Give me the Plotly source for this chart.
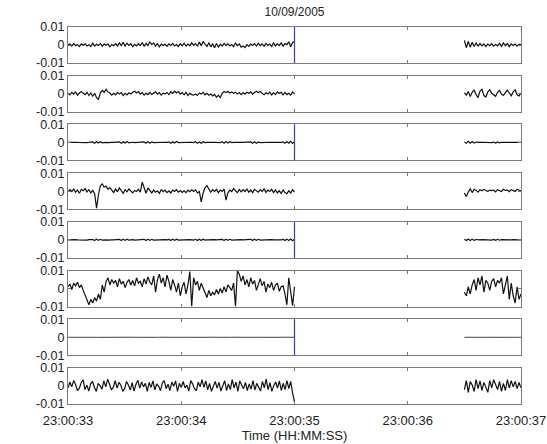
import numpy as np
import plotly.graph_objects as go
from plotly.subplots import make_subplots

# ---- data (signal values in units of 1e-4) ----
SCALE = 1e-4
LEFT_START, LEFT_END = 33.0, 35.0
RIGHT_START, RIGHT_END = 36.5, 37.0
EVENT_T = 35.0
X_TICKS = [33, 34, 35, 36, 37]
X_TICK_LABELS = ["23:00:33", "23:00:34", "23:00:35", "23:00:36", "23:00:37"]
Y_TICKS = [-0.01, 0, 0.01]
Y_TICK_LABELS = ["-0.01", "0", "0.01"]
TITLE = "10/09/2005"
X_TITLE = "Time (HH:MM:SS)"
EVENT_PANELS = [1, 3, 5, 7]

ch1_left = [0,5,-6,8,-4,3,-9,6,-3,7,-5,2,-8,10,-6,4,-3,9,-7,5,-2,6,-10,3,-4,8,-5,12,-3,15,
            -6,10,-2,7,-9,4,-5,6,-3,14,-8,9,-4,18,2,12,-6,8,-10,5,-3,4,-7,6,-2,9,-5,3,-8,7,
            -4,10,-6,5,-3,12,-2,8,-7,16,-4,20,5,-8,12,-10,6,-15,8,-12,4,-6,9,-3,7,-5,3,-9,11,-4,
            6,-12,-5,-14,2,-8,5,-3,8,-6,10,-4,6,-7,9,-2,5,-8,11,-5,7,-3,12,-6,8,2,18,-10,14,20]
ch1_right = [25,-15,20,-12,15,-8,10,-6,8,-5,6,-8,5,-4,7,-6,4,-5,9,-7,12,-4,8,-9,6,-3,5,-6,4,2]

ch2_left = [2,-6,8,-2,10,-8,4,12,2,-5,8,-10,4,-14,2,-22,-32,5,18,8,24,10,4,-8,2,-6,8,-2,6,-10,
            2,-7,5,-2,8,14,4,12,-2,6,-8,2,-5,7,-4,2,10,-2,6,-8,3,-1,7,-5,10,2,14,4,12,-2,
            6,-6,8,-10,2,-5,-8,-2,-10,4,-2,8,-6,2,-8,-2,-12,-4,-20,-8,-22,2,12,6,14,4,10,2,8,-2,
            6,-5,7,-1,8,2,10,-2,6,14,6,12,2,-6,5,-2,8,-7,6,-5,10,2,8,-6,7,-5,2,-8,10,-2]
ch2_right = [5,-8,12,-15,8,20,-5,-22,15,25,-10,-18,10,22,2,-6,-14,8,18,-2,-10,6,20,4,-12,10,22,-6,-12,4]

ch3_left = [0,1,-1,0,1,0,-1,1,0,0,-1,1,0,3,-4,5,-3,4,-2,1,0,-1,1,0,0,1,-1,3,-5,4,
            -3,5,-2,0,1,-1,0,1,0,-1,3,-4,5,-4,3,-1,0,1,0,-1,0,1,0,3,-5,4,-3,5,-1,0,
            1,-1,0,0,1,0,-1,4,-5,3,-4,4,-1,0,1,0,-1,1,0,0,-1,4,-4,5,-3,4,-1,0,1,0,
            -1,1,0,0,1,-1,3,-5,4,-4,3,-1,0,1,0,-1,0,1,0,-1,1,0,0,3,-4,5,-4,6,-5,4]
ch3_right = [3,-5,6,-4,5,-3,2,-1,0,1,0,-1,1,0,-1,2,-3,3,-2,1,0,-1,1,0,0,1,-1,0,1,0]

ch4_left = [-4,8,-2,12,-6,6,-12,10,2,14,-4,8,-10,4,-14,-95,-20,30,40,22,28,10,20,4,-8,12,-4,18,2,-12,
            8,-4,12,2,-10,4,-2,10,-6,50,12,-12,18,2,-10,6,-6,2,-12,8,-3,6,-8,2,-10,6,-2,8,-6,3,
            -7,2,-8,6,-3,7,-2,8,-10,-2,-60,-10,20,30,10,-6,8,-2,10,-8,6,-2,12,-50,-10,6,-3,14,2,-8,
            10,-4,8,-2,12,-6,6,-8,10,2,-6,8,-3,12,-7,6,-2,10,-8,7,-10,2,-12,6,-8,-14,2,-10,8,-6]
ch4_right = [-10,-30,-5,12,-8,10,4,-6,8,2,10,4,-2,6,3,5,-4,8,2,-2,10,4,6,-3,8,5,-2,10,4,2]

ch5_left = [0,1,-1,0,1,0,-1,1,0,0,-1,1,0,2,-4,4,-3,3,-2,1,0,-1,1,0,0,1,-1,3,-4,4,
            -3,4,-2,0,1,-1,0,1,0,-1,3,-4,4,-3,3,-1,0,1,0,-1,0,1,0,3,-4,4,-3,4,-1,0,
            1,-1,0,0,1,0,-1,3,-4,3,-4,4,-1,0,1,0,-1,1,0,0,-1,3,-4,4,-3,3,-1,0,1,0,
            -1,1,0,0,1,-1,3,-4,4,-3,3,-1,0,1,0,-1,0,1,0,-1,1,0,0,3,-4,4,-4,5,-5,4]
ch5_right = [3,-4,5,-4,4,-3,2,-1,0,1,0,-1,1,0,-1,2,-3,3,-2,1,0,-1,1,0,0,1,-1,0,1,0]

ch6_left = [10,25,-5,30,15,35,5,20,-10,-40,-70,-90,-60,-80,-50,-70,-30,-60,20,-20,40,60,20,50,30,45,10,55,25,40,
            5,35,50,20,45,15,60,30,40,10,55,25,65,35,20,70,-20,50,80,30,60,10,75,40,-10,50,20,-20,30,-40,
            10,35,-30,20,95,-100,60,20,40,-10,30,5,-30,-50,-10,-40,-20,-35,-5,-30,0,-25,10,-20,20,5,-10,30,-100,100,
            80,40,70,20,50,10,60,25,45,-10,30,55,15,40,-20,25,5,35,-10,20,30,-15,10,15,-30,-90,60,-20,-95,10]
ch6_right = [-20,-40,10,-30,20,50,-10,60,20,70,-20,45,30,-10,40,55,10,45,30,60,-30,20,70,-60,30,-40,-80,10,-60,-30]

ch7_left = [0,0.3,-0.3,0,0.4,-0.2,0,0.3,0,-0.3,0.2,0,-0.2,0.3,0,-0.4,0.2,0,0.3,-0.2,0,0.2,-0.3,0,0.4,0,-0.2,0.3,0,-0.3,
            0.2,0,-0.2,0.3,0,-0.3,0.4,0,-0.2,0.2,0,-0.3,0.3,0,-0.2,0.4,0,-0.3,0.2,0,-0.2,0.3,0,-0.4,0.2,0,0.3,-0.2,0,0.2,
            -0.3,0,0.4,0,-0.2,0.3,0,-0.3,0.2,0,-0.2,0.3,0,-0.3,0.4,0,-0.2,0.2,0,-0.3,0.3,0,-0.2,0.4,0,-0.3,0.2,0,-0.2,0.3,
            0,-0.4,0.2,0,0.3,-0.2,0,0.2,-0.3,0,0.4,0,-0.2,0.3,0,-0.3,0.2,0,-0.2,0.3,0,-0.3,0.4,0,-0.2,0.2,0,-0.3,0.3,0]
ch7_right = [0,0.3,-0.2,0,0.2,-0.3,0,0.3,0,-0.2,0.2,0,-0.3,0.3,0,-0.2,0.2,0,0.3,-0.2,0,0.2,-0.3,0,0.3,0,-0.2,0.2,0,0]

ch8_left = [-10,22,-5,30,8,-25,-12,18,35,-20,5,-28,12,25,-8,-30,15,2,-18,28,-5,38,10,-22,-8,30,-12,20,4,-30,
            -15,25,5,-22,18,-28,10,32,-12,22,-5,15,-30,20,-8,28,-22,12,-2,-26,18,30,-15,10,-25,22,-2,28,-30,15,
            -8,25,-10,5,-28,30,12,-15,-25,22,-5,35,-8,28,-22,15,-30,2,25,-12,20,-28,8,30,-25,12,-20,35,-10,22,
            -30,28,5,-15,20,-25,12,-18,30,-22,15,-5,-28,25,-10,38,-20,18,-30,2,22,-12,28,-25,15,-20,30,-15,25,-40,-90]
ch8_right = [-20,30,-35,25,5,-30,35,-15,28,-25,20,-5,-35,30,-10,35,12,-20,25,-30,15,-25,35,-10,30,-5,25,-15,20,-10]

channels = [(ch1_left, ch1_right), (ch2_left, ch2_right), (ch3_left, ch3_right),
            (ch4_left, ch4_right), (ch5_left, ch5_right), (ch6_left, ch6_right),
            (ch7_left, ch7_right), (ch8_left, ch8_right)]

N = len(channels)
fig = make_subplots(rows=N, cols=1, shared_xaxes=False, vertical_spacing=0.0337)

for i, (lv, rv) in enumerate(channels, start=1):
    tl = np.linspace(LEFT_START, LEFT_END, len(lv))
    tr = np.linspace(RIGHT_START, RIGHT_END, len(rv))
    x = np.concatenate([tl, [np.nan], tr])
    y = np.concatenate([np.array(lv, float) * SCALE, [np.nan], np.array(rv, float) * SCALE])
    width = 0.8 if i == 7 else 1.2
    fig.add_trace(go.Scatter(x=x, y=y, mode="lines", line=dict(color="#111", width=width),
                             connectgaps=False, showlegend=False, hoverinfo="skip"), row=i, col=1)
    if i in EVENT_PANELS:
        fig.add_vline(x=EVENT_T, line=dict(color="#3a3ad8", width=1.2), row=i, col=1)

axis_common = dict(showline=True, linecolor="#7a7a7a", linewidth=1, mirror="ticks",
                   ticks="inside", ticklen=3, tickcolor="#7a7a7a", showgrid=False, zeroline=False,
                   automargin=False)

for i in range(1, N + 1):
    fig.update_xaxes(range=[X_TICKS[0], X_TICKS[-1]], tickvals=X_TICKS,
                     ticktext=X_TICK_LABELS if i == N else [""] * len(X_TICKS),
                     showticklabels=(i == N), tickfont=dict(size=13, color="#222"),
                     row=i, col=1, **axis_common)
    fig.update_yaxes(range=[Y_TICKS[0], Y_TICKS[-1]], tickvals=Y_TICKS, ticktext=Y_TICK_LABELS,
                     tickfont=dict(size=12.5, color="#222"), row=i, col=1, **axis_common)

fig.update_xaxes(title=dict(text=X_TITLE, font=dict(size=13, color="#222"), standoff=0),
                 ticklabelstandoff=4, row=N, col=1)

fig.update_layout(
    width=547, height=444,
    margin=dict(l=68, r=26, t=27, b=40),
    paper_bgcolor="white", plot_bgcolor="white",
    font=dict(family="Liberation Sans, Arial, sans-serif", color="#222"),
    title=dict(text=TITLE, x=(68 + 521) / 2 / 547, xanchor="center", y=1 - 12 / 444, yanchor="middle",
               font=dict(size=12, color="#222")),
)

fig.write_html("out.html")
